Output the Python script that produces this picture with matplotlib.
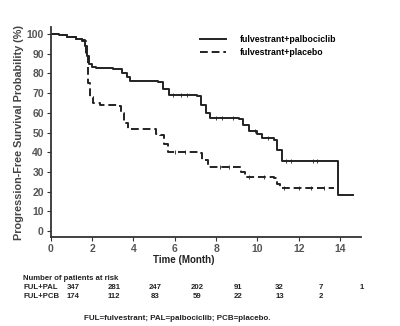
import matplotlib.pyplot as plt
from matplotlib import transforms

# Kaplan-Meier steps (time in months, survival in %)
pal_t = [0, 0.4, 0.8, 1.2, 1.5, 1.65, 1.75, 1.85, 2.0, 2.2, 3.0, 3.45, 3.7, 3.85, 5.2, 5.45, 5.7,
         7.05, 7.25, 7.5, 7.7, 9.1, 9.3, 9.6, 10.0, 10.2, 10.8, 10.95, 11.2, 13.9, 14.6]
pal_s = [100, 99.5, 98.5, 97.5, 97, 94, 89, 85, 83.5, 82.5, 82, 80, 78, 76, 75.5, 72, 69,
         68.5, 64, 60, 57.5, 57, 54, 51, 49, 47, 46, 41, 35.5, 18.3, 18.3]
pcb_t = [0, 0.4, 0.8, 1.2, 1.5, 1.7, 1.8, 1.9, 2.06, 2.4, 3.27, 3.4, 3.55, 3.75, 5.1, 5.3, 5.5, 5.68,
         7.13, 7.3, 7.6, 9.06, 9.2, 9.4, 10.8, 10.95, 11.1, 13.7]
pcb_s = [100, 99.5, 98.5, 97.5, 96.5, 90, 75, 68, 65, 64, 63.5, 60, 55, 51.6, 49.5, 48.7, 44, 40,
         39.5, 36, 32.6, 32.3, 30, 27.6, 27, 24, 22, 22]

# censoring marks
pal_cens = [5.9, 6.3, 6.6, 8.0, 8.3, 8.8, 9.9, 10.5, 11.4, 11.6, 12.7, 12.9]
pcb_cens = [6.0, 6.5, 8.2, 8.6, 9.6, 10.3, 11.3, 12.0, 12.6, 13.2]

risk_months = [0, 2, 4, 6, 8, 10, 12, 14]
risk_pal = ["347", "281", "247", "202", "91", "32", "7", "1"]
risk_pcb = ["174", "112", "83", "59", "22", "13", "2", ""]

narrow = ['Liberation Sans Narrow', 'Liberation Sans', 'DejaVu Sans']
arial = ['Liberation Sans', 'DejaVu Sans']
ink = '#222222'


def step_value(t, ts, ss):
    v = ss[0]
    for ti, si in zip(ts, ss):
        if ti <= t:
            v = si
    return v


fig = plt.figure(figsize=(4.0, 3.26), dpi=100)
ax = fig.add_axes([0.127, 0.272, 0.775, 0.646])

ax.step(pal_t, pal_s, where='post', color=ink, lw=1.4, label='fulvestrant+palbociclib')
ax.step(pcb_t, pcb_s, where='post', color=ink, lw=1.4, linestyle=(0, (4, 2)),
        label='fulvestrant+placebo')
ax.plot(pal_cens, [step_value(t, pal_t, pal_s) for t in pal_cens], '|', color=ink, ms=3, mew=0.6)
ax.plot(pcb_cens, [step_value(t, pcb_t, pcb_s) for t in pcb_cens], '|', color=ink, ms=3, mew=0.6)

ax.set_xlim(0, 15)
ax.set_ylim(-3.2, 103.7)
ax.set_xticks(range(0, 15, 2))
ax.set_yticks(range(0, 101, 10))
for s in ['top', 'right']:
    ax.spines[s].set_visible(False)
for s in ['left', 'bottom']:
    ax.spines[s].set_color('#333333')
    ax.spines[s].set_linewidth(1.3)
ax.tick_params(colors='#333333', labelcolor='#555555', labelsize=7.5, length=3, width=0.8, pad=2)
for lab in ax.get_xticklabels() + ax.get_yticklabels():
    lab.set_fontfamily(arial)
    lab.set_fontweight('bold')

ax.set_ylabel('Progression-Free Survival Probability (%)', fontsize=7.8, fontweight='bold',
              color='#444444', family=arial, labelpad=2)
fig.text(0.46, 0.203, 'Time (Month)', fontsize=7, fontweight='bold', color=ink, family=narrow,
         ha='center', va='center')

ax.legend(loc='upper left', bbox_to_anchor=(0.455, 1.0), frameon=False, handlelength=3.0,
          handletextpad=1.6, labelspacing=0.55,
          prop={'family': narrow, 'weight': 'bold', 'size': 6.3})

# number at risk table, shifted right from the month positions as in the original
tr = transforms.offset_copy(transforms.blended_transform_factory(ax.transData, fig.transFigure),
                            fig=fig, x=0.22, y=0, units='inches')
row1_y, row2_y = 0.119, 0.091
fig.text(0.058, 0.146, 'Number of patients at risk', fontsize=5.6, fontweight='bold',
         family=narrow, color=ink, va='center')
fig.text(0.058, row1_y, 'FUL+PAL', fontsize=5.6, fontweight='bold', family=narrow, color=ink,
         va='center')
fig.text(0.058, row2_y, 'FUL+PCB', fontsize=5.6, fontweight='bold', family=narrow, color=ink,
         va='center')
for m, a, b in zip(risk_months, risk_pal, risk_pcb):
    ax.text(m, row1_y, a, transform=tr, ha='center', va='center', fontsize=5.6,
            fontweight='bold', family=narrow, color=ink)
    ax.text(m, row2_y, b, transform=tr, ha='center', va='center', fontsize=5.6,
            fontweight='bold', family=narrow, color=ink)

fig.text(0.443, 0.023, 'FUL=fulvestrant; PAL=palbociclib; PCB=placebo.', fontsize=5.8,
         fontweight='bold', family=narrow, color=ink, ha='center', va='center')

fig.savefig('out.png', dpi=100)
